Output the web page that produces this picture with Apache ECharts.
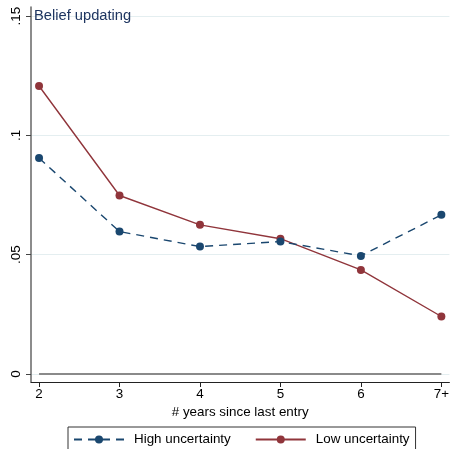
<!DOCTYPE html>
<html><head><meta charset="utf-8">
<script src="https://cdn.jsdelivr.net/npm/echarts@6/dist/echarts.min.js"></script>
<style>html,body{margin:0;padding:0;background:#fff}#c{width:452px;height:449px}</style>
</head><body><div id="c"></div>
<script>
const categories = ['2','3','4','5','6','7+'];
const xValues = [2,3,4,5,6,7];
const highUncertainty = [0.0905, 0.0597, 0.0534, 0.0555, 0.0495, 0.0667];
const lowUncertainty = [0.1207, 0.0748, 0.0625, 0.0567, 0.0436, 0.0241];
const yTicks = [0, 0.05, 0.1, 0.15];
const yTickLabels = ['0', '.05', '.1', '.15'];

const chart = echarts.init(document.getElementById('c'));
const font = 'Liberation Sans, Arial, sans-serif';
const pair = arr => arr.map((v,i)=>[xValues[i], v]);
chart.setOption({
  animation:false,
  backgroundColor:'#fff',
  textStyle:{fontFamily:font},
  title:{text:'Belief updating', left:34, top:8, padding:0,
    textStyle:{fontSize:14.7, fontWeight:'normal', color:'#1e3560', fontFamily:font}},
  grid:{left:31, right:1, top:7, bottom:67, containLabel:false},
  legend:{
    left:68, top:427, padding:[6,6,14,5], itemGap:24, itemWidth:50, itemHeight:10,
    borderColor:'#333', borderWidth:1,
    textStyle:{fontSize:13.4, color:'#000', fontFamily:font, padding:[0,0,0,5]},
    data:['High uncertainty','Low uncertainty']
  },
  xAxis:{
    type:'value', min:1.9, max:7.1,
    name:'# years since last entry', nameLocation:'middle', nameGap:24,
    nameTextStyle:{fontSize:13.4, color:'#000', fontFamily:font},
    axisLine:{show:true, onZero:false, lineStyle:{color:'#222', width:1}},
    axisTick:{show:true, length:5, customValues:xValues, lineStyle:{color:'#222'}},
    axisLabel:{customValues:xValues, fontSize:13.4, color:'#000', margin:6,
      formatter:v=>categories[xValues.indexOf(Math.round(v))] || ''},
    splitLine:{show:false}
  },
  yAxis:{
    type:'value', min:-0.00335, max:0.1538,
    axisLine:{show:true, onZero:false, lineStyle:{color:'#666', width:1.5}},
    axisTick:{show:true, length:5, customValues:yTicks, lineStyle:{color:'#444'}},
    axisLabel:{customValues:yTicks, rotate:90, fontSize:13.4, color:'#000', margin:8,
      formatter:v=>{const i=yTicks.findIndex(t=>Math.abs(t-v)<1e-9); return i>=0?yTickLabels[i]:'';}},
    splitLine:{show:true, lineStyle:{color:'#e4eef0', width:1}}
  },
  series:[
    {name:'zero', type:'line', data:[[xValues[0],0],[xValues[xValues.length-1],0]],
      symbol:'none', lineStyle:{color:'#8a8a8a', width:2}, silent:true, z:1},
    {name:'High uncertainty', type:'line', data:pair(highUncertainty),
      symbol:'circle', symbolSize:8, itemStyle:{color:'#1a476f'},
      lineStyle:{color:'#1a476f', width:1.4, type:[8,6]}, z:3},
    {name:'Low uncertainty', type:'line', data:pair(lowUncertainty),
      symbol:'circle', symbolSize:8, itemStyle:{color:'#90353b'},
      lineStyle:{color:'#90353b', width:1.4}, z:2}
  ]
});
</script></body></html>
